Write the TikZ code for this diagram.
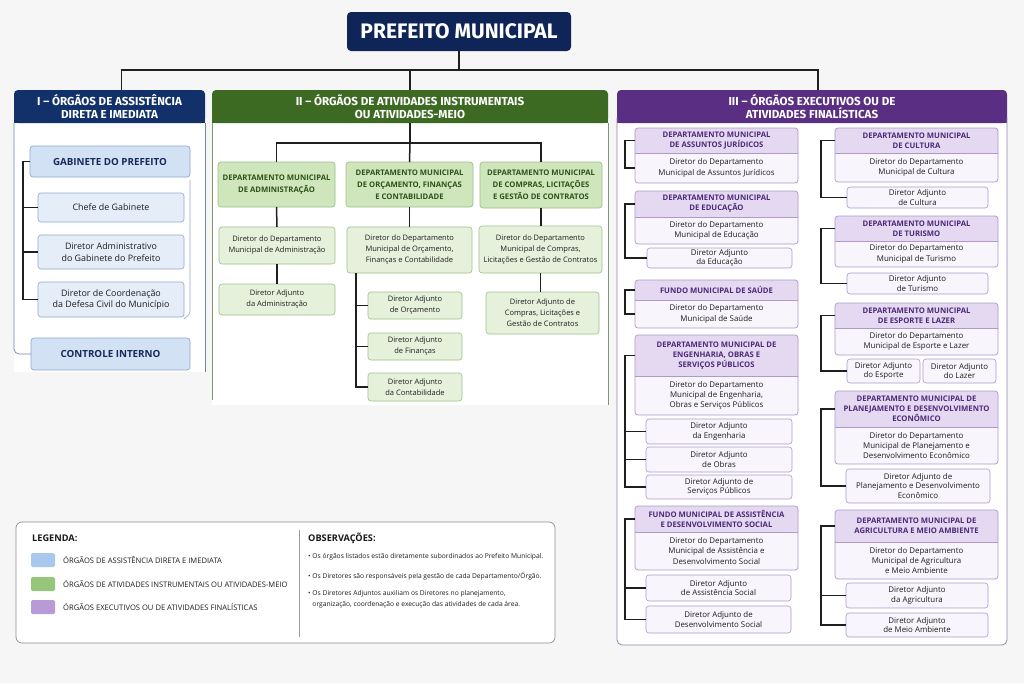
\documentclass[tikz,border=0pt]{standalone}
\usepackage{fontspec}
\setmainfont{Open Sans}
\newfontfamily\condf{Fira Sans}
\definecolor{bgc}{HTML}{F6F6F6}
\definecolor{navy}{HTML}{0F2557}
\definecolor{navy2}{HTML}{12306A}
\definecolor{bfill}{HTML}{D2E1F4}
\definecolor{bfill2}{HTML}{E5EDF8}
\definecolor{bbd}{HTML}{90A9CC}
\definecolor{btxt}{HTML}{16295A}
\definecolor{ghdr}{HTML}{3D6A22}
\definecolor{gfill}{HTML}{CFE5BC}
\definecolor{gfill2}{HTML}{E6F1DC}
\definecolor{gbd}{HTML}{9DBF88}
\definecolor{gtxt}{HTML}{2D5217}
\definecolor{phdr}{HTML}{5A2E82}
\definecolor{phead}{HTML}{E4D9F1}
\definecolor{pbody}{HTML}{F8F5FC}
\definecolor{pbd}{HTML}{AE98CC}
\definecolor{ptxt}{HTML}{4E2879}
\definecolor{linec}{HTML}{1F1F1F}
\definecolor{txt}{HTML}{1E1E1E}
\definecolor{swb}{HTML}{A9C8EE}
\definecolor{swg}{HTML}{96C67A}
\definecolor{swp}{HTML}{B89BD6}
\newcommand{\bx}[7]{\node[#2,anchor=north west,minimum width={(#5-#3)*1pt},minimum height={(#6-#4)*1pt}] (#1) at (#3,#4) {#7};}
\newcommand{\pdept}[8]{%
 \fill[pbody, rounded corners=3pt] (#2,#4) rectangle (#3,#6);
 \fill[phead, rounded corners=3pt] (#2,#4) rectangle (#3,#5);
 \fill[phead] (#2,#4+4) rectangle (#3,#5);
 \draw[pbd, line width=0.5pt] (#2,#5) -- (#3,#5);
 \draw[pbd, line width=0.7pt, rounded corners=3pt] (#2,#4) rectangle (#3,#6);
 \bx{#1h}{ptitle}{#2}{#4}{#3}{#5}{#7}
 \bx{#1b}{ptext}{#2}{#5}{#3}{#6}{#8}}
\newcommand{\hdr}[6]{%
 \fill[#6, rounded corners=4pt] (#2,#3) rectangle (#4,#5);
 \fill[#6] (#2,#3+6) rectangle (#4,#5);}
\tikzset{
 conn/.style={draw=linec, line width=1.5pt},
 brk/.style={draw=linec, line width=1.2pt},
 boxbase/.style={inner sep=1pt, outer sep=0pt, align=center, rounded corners=3pt},
 title/.style={fill=navy, rounded corners=4pt, inner sep=0pt, outer sep=0pt, text=white, font=\condf\bfseries\fontsize{21}{24}\selectfont},
 shdr/.style={inner sep=0pt, outer sep=0pt, align=center, text=white, font=\condf\bfseries\fontsize{11.6}{13.5}\selectfont},
 bbig/.style={boxbase, fill=bfill, draw=bbd, line width=0.7pt, text=btxt, font=\bfseries\fontsize{9.8}{11}\selectfont},
 bsm/.style={boxbase, fill=bfill2, draw=bbd, line width=0.6pt, text=txt, font=\fontsize{8.9}{11.5}\selectfont},
 gdept/.style={boxbase, fill=gfill, draw=gbd, line width=0.7pt, text=gtxt, font=\bfseries\fontsize{7.7}{12}\selectfont},
 gdir/.style={boxbase, fill=gfill2, draw=gbd, line width=0.6pt, text=txt, font=\fontsize{7.5}{11}\selectfont},
 ptitle/.style={inner sep=1pt, outer sep=0pt, align=center, text=ptxt, font=\bfseries\fontsize{7.7}{10}\selectfont},
 ptext/.style={inner sep=1pt, outer sep=0pt, align=center, text=txt, font=\fontsize{7.9}{10.3}\selectfont},
 padj/.style={boxbase, fill=pbody, draw=pbd, line width=0.6pt, text=txt, font=\fontsize{7.9}{9.8}\selectfont},
 legbox/.style={draw=black!45, fill=white, line width=0.7pt, rounded corners=6pt, inner sep=0pt, outer sep=0pt},
 swatch/.style={rounded corners=1.5pt, inner sep=0pt, outer sep=0pt},
 legtxt/.style={anchor=west, inner sep=0pt, text=txt, font=\fontsize{7.6}{9}\selectfont},
 obstxt/.style={anchor=west, inner sep=0pt, text=txt, font=\fontsize{6.7}{11}\selectfont, align=left},
 legttl/.style={anchor=west, inner sep=0pt, text=black!90, font=\bfseries\fontsize{9.2}{10}\selectfont},
}
\begin{document}
\begin{tikzpicture}[x=1pt,y=-1pt]
\useasboundingbox (0,0) rectangle (1024,683);
\fill[bgc] (0,0) rectangle (1024,683);

% panels
\fill[white] (14,123) rectangle (205,372);
\fill[white] (212,123) rectangle (608,405);
\fill[white, rounded corners=4pt] (617,110) rectangle (1007,645);

% title & section headers
\bx{pm}{title}{347}{12}{571}{51}{PREFEITO MUNICIPAL}
\hdr{s1f}{14}{90}{205}{123}{navy2}
\hdr{s2f}{212}{90}{608}{123}{ghdr}
\hdr{s3f}{617}{90}{1007}{123}{phdr}
\bx{s1}{shdr}{14}{90}{205}{123}{I – ÓRGÃOS DE ASSISTÊNCIA\\DIRETA E IMEDIATA}
\bx{s2}{shdr}{212}{90}{608}{123}{II – ÓRGÃOS DE ATIVIDADES INSTRUMENTAIS\\OU ATIVIDADES-MEIO}
\bx{s3}{shdr}{617}{90}{1007}{123}{III – ÓRGÃOS EXECUTIVOS OU DE\\ATIVIDADES FINALÍSTICAS}

\draw[conn] (pm.south) -- ++(0,19) coordinate (bus);
\draw[conn] (bus) -| ([xshift=12pt]s1.north);
\draw[conn] (bus) -| ([xshift=6pt]s3.north);
\draw[conn] (bus -| s2.north) -- (s2.north);

% ---------- Section I ----------
\bx{gab}{bbig}{30}{146}{190}{177}{GABINETE DO PREFEITO}
\bx{chefe}{bsm}{38}{193}{184}{222}{Chefe de Gabinete}
\bx{dadm}{bsm}{38}{235}{184}{269}{Diretor Administrativo\\do Gabinete do Prefeito}
\bx{ddef}{bsm}{38}{282}{184}{317}{Diretor de Coordenação\\da Defesa Civil do Município}
\bx{ctrl}{bbig}{31}{338}{190}{370}{CONTROLE INTERNO}
\draw[bbd, line width=0.6pt, rounded corners=3pt] ([yshift=-3pt]gab.south east) -- ++(0,134) -- ([yshift=-2pt]ddef.south east);
\draw[brk] (gab.west) -- ++(-7,0) coordinate (g1) |- (ddef.west);
\draw[brk] (g1 |- chefe.west) -- (chefe.west);
\draw[brk] (g1 |- dadm.west) -- (dadm.west);
\draw[bbd!80!black, line width=0.7pt, rounded corners=5pt] (s1.south west) |- (ctrl.west);
\draw[bbd!80!black, line width=0.7pt] (s1.south east) -- ++(0,249);

% ---------- Section II ----------
\bx{gadm}{gdept}{218}{162}{335}{207}{DEPARTAMENTO MUNICIPAL\\DE ADMINISTRAÇÃO}
\bx{gorc}{gdept}{346}{162}{473}{207}{DEPARTAMENTO MUNICIPAL\\DE ORÇAMENTO, FINANÇAS\\E CONTABILIDADE}
\bx{gcom}{gdept}{480}{162}{602}{208}{DEPARTAMENTO MUNICIPAL\\DE COMPRAS, LICITAÇÕES\\E GESTÃO DE CONTRATOS}
\bx{dadm2}{gdir}{219}{227}{335}{264}{Diretor do Departamento\\Municipal de Administração}
\bx{aadm}{gdir}{219}{284}{335}{315}{Diretor Adjunto\\da Administração}
\bx{dorc}{gdir}{347}{227}{472}{273}{Diretor do Departamento\\Municipal de Orçamento,\\Finanças e Contabilidade}
\bx{aorc1}{gdir}{368}{292}{462}{319}{Diretor Adjunto\\de Orçamento}
\bx{aorc2}{gdir}{368}{333}{462}{360}{Diretor Adjunto\\de Finanças}
\bx{aorc3}{gdir}{368}{373}{462}{401}{Diretor Adjunto\\da Contabilidade}
\bx{dcom}{gdir}{479}{226}{602}{273}{Diretor do Departamento\\Municipal de Compras,\\Licitações e Gestão de Contratos}
\bx{acom}{gdir}{486}{292}{599}{334}{Diretor Adjunto de\\Compras, Licitações e\\Gestão de Contratos}
\draw[conn] (s2.south) -- ++(0,20) coordinate (b2);
\draw[conn] (b2) -| (gadm.north);
\draw[conn] (b2) -| (gcom.north);
\draw[conn] (b2) -- (gorc.north);
\draw[conn] (gadm.south) -- (dadm2.north);
\draw[conn] (dadm2.south) -- (aadm.north);
\draw[conn] (gorc.south) -- (dorc.north);
\draw[conn] (gcom.south) -- (gcom.south |- dcom.north);
\draw[conn] (dcom.south) -- (dcom.south |- acom.north);
\draw[brk] ([xshift=9pt]dorc.south west) coordinate (o1) |- (aorc3.west);
\draw[brk] (o1 |- aorc1.west) -- (aorc1.west);
\draw[brk] (o1 |- aorc2.west) -- (aorc2.west);
\draw[gbd!80!black, line width=0.7pt] (s2.south west) -- ++(0,277);
\draw[gbd!80!black, line width=0.7pt] (s2.south east) -- ++(0,282);

% ---------- Section III ----------
\draw[pbd!85!black, line width=0.8pt, rounded corners=5pt] (617,118) -- (617,645) -- (1007,645) -- (1007,118);
\pdept{jur}{635}{798}{128}{153}{183}{DEPARTAMENTO MUNICIPAL\\DE ASSUNTOS JURÍDICOS}{Diretor do Departamento\\Municipal de Assuntos Jurídicos}
\pdept{edu}{635}{798}{191}{217}{244}{DEPARTAMENTO MUNICIPAL\\DE EDUCAÇÃO}{Diretor do Departamento\\Municipal de Educação}
\bx{aedu}{padj}{647}{248}{792}{268}{Diretor Adjunto\\da Educação}
\pdept{sau}{635}{798}{280}{300}{328}{FUNDO MUNICIPAL DE SAÚDE}{Diretor do Departamento\\Municipal de Saúde}
\pdept{eng}{635}{798}{335}{376}{415}{DEPARTAMENTO MUNICIPAL DE\\ENGENHARIA, OBRAS E\\SERVIÇOS PÚBLICOS}{Diretor do Departamento\\Municipal de Engenharia,\\Obras e Serviços Públicos}
\bx{aeng1}{padj}{646}{419}{792}{444}{Diretor Adjunto\\da Engenharia}
\bx{aeng2}{padj}{646}{447}{792}{472}{Diretor Adjunto\\de Obras}
\bx{aeng3}{padj}{646}{475}{792}{499}{Diretor Adjunto de\\Serviços Públicos}
\pdept{ass}{635}{798}{506}{532}{570}{FUNDO MUNICIPAL DE ASSISTÊNCIA\\E DESENVOLVIMENTO SOCIAL}{Diretor do Departamento\\Municipal de Assistência e\\Desenvolvimento Social}
\bx{aass1}{padj}{646}{575}{791}{601}{Diretor Adjunto\\de Assistência Social}
\bx{aass2}{padj}{646}{606}{791}{633}{Diretor Adjunto de\\Desenvolvimento Social}

\pdept{cul}{835}{998}{128}{153}{182}{DEPARTAMENTO MUNICIPAL\\DE CULTURA}{Diretor do Departamento\\Municipal de Cultura}
\bx{acul}{padj}{847}{187}{988}{208}{Diretor Adjunto\\de Cultura}
\pdept{tur}{835}{998}{216}{241}{267}{DEPARTAMENTO MUNICIPAL\\DE TURISMO}{Diretor do Departamento\\Municipal de Turismo}
\bx{atur}{padj}{847}{273}{988}{294}{Diretor Adjunto\\de Turismo}
\pdept{esp}{835}{998}{303}{328}{355}{DEPARTAMENTO MUNICIPAL\\DE ESPORTE E LAZER}{Diretor do Departamento\\Municipal de Esporte e Lazer}
\bx{aesp}{padj}{847}{359}{920}{383}{Diretor Adjunto\\do Esporte}
\bx{alaz}{padj}{923}{359}{996}{383}{Diretor Adjunto\\do Lazer}
\pdept{pla}{835}{998}{391}{427}{464}{DEPARTAMENTO MUNICIPAL DE\\PLANEJAMENTO E DESENVOLVIMENTO\\ECONÔMICO}{Diretor do Departamento\\Municipal de Planejamento e\\Desenvolvimento Econômico}
\bx{apla}{padj}{846}{469}{990}{503}{Diretor Adjunto de\\Planejamento e Desenvolvimento\\Econômico}
\pdept{agr}{835}{998}{510}{542}{579}{DEPARTAMENTO MUNICIPAL DE\\AGRICULTURA E MEIO AMBIENTE}{Diretor do Departamento\\Municipal de Agricultura\\e Meio Ambiente}
\bx{aagr1}{padj}{846}{583}{988}{608}{Diretor Adjunto\\da Agricultura}
\bx{aagr2}{padj}{846}{613}{988}{637}{Diretor Adjunto\\de Meio Ambiente}

% brackets left column
\draw[brk] (jurh.west) -- ++(-10,0) |- (jurb.west);
\draw[brk] (eduh.west) -- ++(-10,0) |- (aedu.west);
\draw[brk] (sauh.west) -- ++(-10,0) |- (saub.west);
\draw[brk] (engh.west) -- ++(-10,0) coordinate (e1) |- (aeng3.west);
\draw[brk] (e1 |- aeng1.west) -- (aeng1.west);
\draw[brk] (e1 |- aeng2.west) -- (aeng2.west);
\draw[brk] (assh.west) -- ++(-10,0) coordinate (a1) |- (aass2.west);
\draw[brk] (a1 |- aass1.west) -- (aass1.west);
% brackets right column
\draw[brk] (culh.west) -- ++(-14,0) |- (acul.west);
\draw[brk] (turh.west) -- ++(-14,0) |- (atur.west);
\draw[brk] (esph.west) -- ++(-14,0) |- (aesp.west);
\draw[brk] (plah.west) -- ++(-14,0) |- (apla.west);
\draw[brk] (agrh.west) -- ++(-14,0) coordinate (r1) |- (aagr2.west);
\draw[brk] (r1 |- aagr1.west) -- (aagr1.west);

% ---------- Legend ----------
\bx{leg}{legbox}{16}{522}{555}{643}{}
\draw[black!40, line width=0.6pt] (299,530) -- (299,637);
\node[legttl] (lgt) at (32,538) {LEGENDA:};
\bx{sw1}{swatch, fill=swb}{31}{553}{55}{567}{}
\bx{sw2}{swatch, fill=swg}{31}{577}{55}{591}{}
\bx{sw3}{swatch, fill=swp}{31}{600}{55}{614}{}
\node[legtxt] (l1) at (63,560) {ÓRGÃOS DE ASSISTÊNCIA DIRETA E IMEDIATA};
\node[legtxt] (l2) at (63,584) {ÓRGÃOS DE ATIVIDADES INSTRUMENTAIS OU ATIVIDADES-MEIO};
\node[legtxt] (l3) at (63,607) {ÓRGÃOS EXECUTIVOS OU DE ATIVIDADES FINALÍSTICAS};
\node[legttl] (obt) at (308,538) {OBSERVAÇÕES:};
\node[obstxt] (o1) at (308,557) {• Os órgãos listados estão diretamente subordinados ao Prefeito Municipal.};
\node[obstxt] (o2) at (308,576) {• Os Diretores são responsáveis pela gestão de cada Departamento/Órgão.};
\node[obstxt, anchor=north west] (o3) at (308,590) {• Os Diretores Adjuntos auxiliam os Diretores no planejamento,\\\hphantom{• }organização, coordenação e execução das atividades de cada área.};
\end{tikzpicture}
\end{document}
